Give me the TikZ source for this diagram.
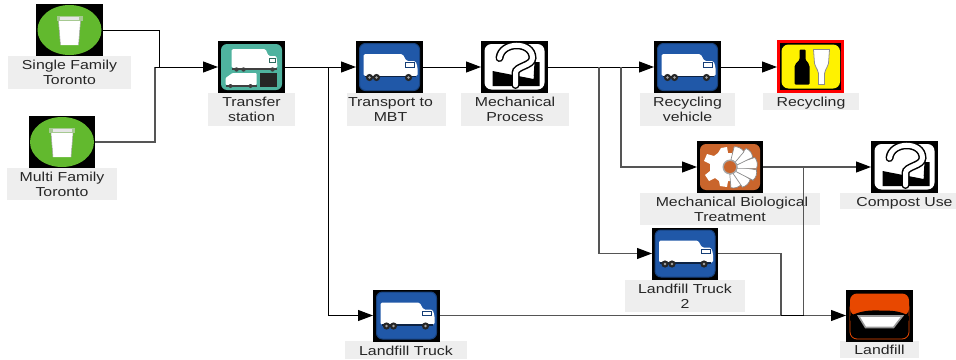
\documentclass[tikz,border=0pt]{standalone}
\usepackage{fontspec}
\usetikzlibrary{arrows.meta}
\newfontfamily\lblfont[FakeStretch=1.22]{Liberation Sans}
\definecolor{labgray}{HTML}{EEEEEE}
\definecolor{binGreen}{HTML}{62B92E}
\definecolor{truckBlue}{HTML}{2058A8}
\definecolor{tealIcon}{HTML}{4FB39F}
\definecolor{gearOrange}{HTML}{C9652C}
\definecolor{fillOrange}{HTML}{E84800}
\definecolor{lineGray}{HTML}{555555}
\tikzset{
  x=1pt,y=-1pt,
  icon/.style={fill=black,draw=none,inner sep=0pt,outer sep=0pt,minimum width=67pt,minimum height=52pt},
  lab/.style={fill=labgray,draw=none,inner sep=0pt,outer sep=0pt,align=center,text=black!85,font=\lblfont\fontsize{13}{15}\selectfont},
  labone/.style={lab,text height=11pt,text depth=1pt},
  conn/.style={draw=black,line width=1pt},
  gconn/.style={draw=lineGray,line width=1.1pt},
  tip/.style={-{Triangle[length=15pt,width=11pt,color=black]}},
  truckshape/.pic={
    \fill[white,rounded corners=1.5pt] (-26,-13) -- (13,-13) -- (17,-6) -- (26,-6) -- (28,0) -- (28,9) -- (-26,9) -- cycle;
    \draw[truckBlue!70!black,line width=.8pt] (16,-4.5) rectangle (25,0);
    \fill[truckBlue!40!black] (-25,8.5) rectangle (26,10);
    \foreach \wx in {-20,-13,19}{\fill[black!85] (\wx,10.5) circle (3.6); \fill[black!35] (\wx,10.5) circle (1.4);}
  },
  truck/.pic={
    \fill[truckBlue,draw=truckBlue!75!black,line width=1pt,rounded corners=6pt] (-30,-23.5) rectangle (30,23.5);
    \pic {truckshape};
  },
  bin/.pic={
    \fill[binGreen] (0,0) ellipse (32 and 25);
    \fill[white] (-11,-9) -- (11,-9) -- (9,15) -- (-9,15) -- cycle;
    \fill[white!55!binGreen!90!black] (-13,-14) rectangle (13,-9);
    \fill[white!90!black] (-9.5,-13) rectangle (9.5,-10);
    \draw[black!35,line width=.5pt] (-11,-9) -- (-9,15) (11,-9) -- (9,15);
  },
  quest/.pic={
    \fill[white,rounded corners=7pt] (-30,-23) rectangle (30,22.5);
    \fill[black] (-22,4) -- (19,12) -- (20,-5) -- (25,-5) -- (25,19) -- (-22,19) -- cycle;
    \draw[white,line width=2pt] (-22,2) -- (19,10);
    \draw[black,line width=8pt,line cap=round] (-15,-9) .. controls (-13,-26) and (18,-26) .. (18,-9) .. controls (18,-1) and (1,-1) .. (1,6) -- (1,18);
    \draw[white,line width=5pt,line cap=round] (-15,-9) .. controls (-13,-26) and (18,-26) .. (18,-9) .. controls (18,-1) and (1,-1) .. (1,6) -- (1,18);
  },
  recyc/.pic={
    \draw[red,line width=2.7pt] (-32.2,-25.2) rectangle (32.2,25.2);
    \fill[yellow,rounded corners=7pt] (-29,-22) rectangle (29.5,22);
    \fill[black,rounded corners=1pt] (-11,-17) -- (-5,-17) -- (-5,-7) .. controls (-3,-4) and (-1,-3) .. (-1,1) -- (-1,18) -- (-16,18) -- (-16,1) .. controls (-16,-3) and (-13,-4) .. (-11,-7) -- cycle;
    \fill[white,draw=black!45,line width=.8pt] (3,-17) -- (19,-17) -- (18,-3) .. controls (16,3) and (14,4) .. (14,7) -- (14,18) -- (8,18) -- (8,7) .. controls (8,4) and (6,3) .. (4,-3) -- cycle;
  },
  transfer/.pic={
    \fill[tealIcon,rounded corners=6pt] (-30.5,-23) rectangle (30.5,23);
    \fill[white,rounded corners=1.5pt] (-20,-18) -- (14,-18) -- (17,-11) -- (25,-11) -- (26,1) -- (-20,1) -- cycle;
    \draw[tealIcon!60!black,line width=.7pt] (18,-9) rectangle (24,-5);
    \fill[black!75] (-20,1) rectangle (25,2.5);
    \foreach \wx in {-15,-8,21}{\fill[black!75] (\wx,2.5) circle (2.2);}
    \fill[white,rounded corners=1pt] (-26,11) -- (-19,6) -- (5,6) -- (5,18) -- (-26,18) -- cycle;
    \fill[black!75] (-26,18) rectangle (5,20);
    \foreach \wx in {-21,-1}{\fill[black!75] (\wx,19) circle (2);}
    \fill[black!85] (8,6) rectangle (25,20);
  },
  gearicon/.pic={
    \fill[gearOrange,rounded corners=6pt] (-30,-23) rectangle (30,23);
    \fill[white] (-9,-19) -- (-3,-20) -- (-2,-14) -- (2,-14) -- (2,14) -- (-2,14) -- (-3,20) -- (-10,19) -- (-11,14) -- (-15,11) -- (-21,14) -- (-25,8) -- (-20,4) -- (-20,-3) -- (-26,-6) -- (-23,-13) -- (-16,-11) -- (-12,-14) -- cycle;
    \foreach \ang/\rr in {-72/21,-45/24,-18/27,9/27,36/25,63/21}{
      \fill[white,draw=black!45,line width=.7pt,rotate=\ang] (7,-2.5) -- (\rr-1,-5.5) .. controls (\rr+1,-2) and (\rr+1,2) .. (\rr-1,5.5) -- (7,2.5) -- cycle;
    }
    \fill[black!35] (0,0) circle (7.5);
    \fill[gearOrange] (0,0) circle (6);
  },
  landfillicon/.pic={
    \draw[fillOrange,line width=.8pt,rounded corners=7pt] (-29.5,-15) rectangle (29.5,23.5);
    \fill[fillOrange,rounded corners=7pt] (-29.5,-22) -- (29.5,-22) -- (29.5,0) -- (-29.5,0) -- cycle;
    \fill[black] (-29.5,0.5) .. controls (-16,-6) and (-6,-5) .. (0,-5) .. controls (10,-5) and (22,-5) .. (29.5,1) -- (29.5,5) -- (-29.5,5) -- cycle;
    \fill[white,draw=black!40,line width=1.6pt] (-21,0.5) -- (23,0.5) -- (14,12) -- (-14,12) -- cycle;
  }
}
\begin{document}
\begin{tikzpicture}
\useasboundingbox (0,0) rectangle (956,359);
\clip (0,0) rectangle (956,359);
% labels
\node[lab,minimum width=123pt,minimum height=33pt] (singleL) at (69.5,72.5) {Single Family\\Toronto};
\node[lab,minimum width=110pt,minimum height=32pt] (multiL) at (62,184) {Multi Family\\Toronto};
\node[lab,minimum width=87pt,minimum height=33pt] (transferL) at (251.5,109.5) {Transfer\\station};
\node[lab,minimum width=99pt,minimum height=33pt] (transportL) at (396.5,109.5) {Transport to\hspace*{12pt}\\MBT\hspace*{12pt}};
\node[lab,minimum width=108pt,minimum height=33pt] (mechL) at (515,109.5) {Mechanical\\Process};
\node[lab,minimum width=95pt,minimum height=33pt] (rvL) at (687.5,109.5) {Recycling\\vehicle};
\node[labone,minimum width=96pt,minimum height=17pt] (recL) at (811,101.5) {Recycling};
\node[lab,minimum width=180pt,minimum height=32pt] (mbtL) at (730,209) {\hspace*{4pt}Mechanical Biological\\Treatment};
\node[labone,minimum width=129pt,minimum height=16pt] (compL) at (904.5,201) {Compost Use};
\node[lab,minimum width=120pt,minimum height=32pt] (lt2L) at (685,296) {Landfill Truck\\2};
\node[labone,minimum width=79pt,minimum height=17pt] (lfL) at (879.5,349.5) {Landfill};
\node[labone,minimum width=122pt,minimum height=18pt] (ltL) at (406,350) {Landfill Truck};
% icons
\node[icon] (single) at (69.5,30) {};
\pic at (single.center) {bin};
\node[icon,minimum width=66pt] (multi) at (62,142) {};
\pic at (multi.center) {bin};
\node[icon] (transfer) at (251.5,67) {};
\pic at (transfer.center) {transfer};
\node[icon] (transport) at (389.5,67) {};
\pic at (transport.center) {truck};
\node[icon] (mech) at (514.5,67) {};
\pic at (mech.center) {quest};
\node[icon] (rv) at (687.5,67) {};
\pic at (rv.center) {truck};
\node[icon,minimum height=53pt] (rec) at (810.5,66.5) {};
\pic at (rec.center) {recyc};
\node[icon,minimum width=66pt] (mbt) at (730,167) {};
\pic at (mbt.center) {gearicon};
\node[icon] (comp) at (904.5,167) {};
\pic at (comp.center) {quest};
\node[icon,minimum width=66pt] (lt2) at (685,253.5) {};
\pic at (lt2.center) {truck};
\node[icon] (lf) at (879.5,315.5) {};
\pic at (lf.center) {landfillicon};
\node[icon] (lt) at (406.5,315.5) {};
\pic at (lt.center) {truck};
% junction and bend coordinates
\coordinate (jSingle) at (159,67);
\coordinate (jMulti) at (155,67);
\coordinate (jTransfer) at (328,67);
\coordinate (jMbt) at (621,67);
\coordinate (jLt2) at (599,67);
\coordinate (jComp) at (803.5,167);
\coordinate (jBendA) at (803.5,315.5);
\coordinate (jBendB) at (781,315.5);
% connectors
\draw[conn] (single.east) -| (jSingle);
\draw[gconn] (multi.east) -| (jMulti);
\draw[conn,tip] (jMulti) -- (transfer.west);
\draw[conn,tip] (transfer.east) -- (transport.west);
\draw[conn,tip] (jTransfer) |- (lt.west);
\draw[conn,tip] (transport.east) -- (mech.west);
\draw[conn,tip] (mech.east) -- (rv.west);
\draw[gconn,tip] (jMbt) |- (mbt.west);
\draw[gconn,tip] (jLt2) |- (lt2.west);
\draw[conn,tip] (rv.east) -- (rv.east -| rec.west);
\draw[gconn,tip] (mbt.east) -- (comp.west);
\draw[gconn] (jComp) -- (jBendA);
\draw[gconn] (lt2.east) -| (jBendB);
\draw[gconn,tip] (lt.east) -- (lf.west);
\draw[conn] (jBendB) -- (jBendA);
\end{tikzpicture}
\end{document}
